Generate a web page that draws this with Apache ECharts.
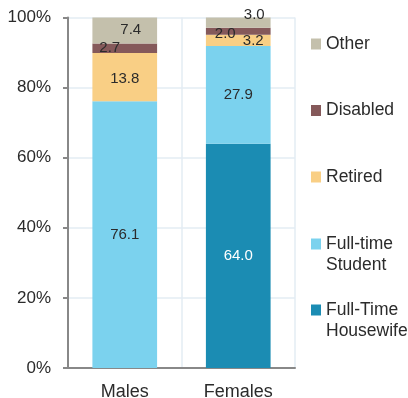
<!DOCTYPE html>
<html>
<head>
<meta charset="utf-8">
<script src="https://cdn.jsdelivr.net/npm/echarts@6/dist/echarts.min.js"></script>
<style>
  html, body { margin: 0; padding: 0; background: #fff; }
  #chart { width: 408px; height: 398px; }
</style>
</head>
<body>
<div id="chart"></div>
<script>
// Status breakdown (percent) by sex
var categories = ['Males', 'Females'];
var seriesNames = ['Full-Time\nHousewife', 'Full-time\nStudent', 'Retired', 'Disabled', 'Other'];
var housewife = [0, 64.0];
var student = [76.1, 27.9];
var retired = [13.8, 3.2];
var disabled = [2.7, 2.0];
var other = [7.4, 3.0];
var yTicks = [0, 20, 40, 60, 80, 100];

var colors = ['#1b8cb3', '#7bd2ee', '#f9cf85', '#85595a', '#c4c0ac'];
var values = [housewife, student, retired, disabled, other];
var textColor = '#2b2b2b';
var font = 'Liberation Sans, Arial, sans-serif';

// per-label nudges for thin segments
var labelOffsets = {
  'Disabled': [[-15, 0], [-13, 3]],
  'Other': [[6, -1], [16, -8]],
  'Retired': [[0, 2], [15, 1]]
};

var series = seriesNames.map(function (name, i) {
  return {
    name: name,
    type: 'bar',
    stack: 'total',
    barWidth: '57%',
    itemStyle: { color: colors[i] },
    data: values[i].map(function (v, j) {
      var d = { value: v };
      var off = labelOffsets[name] ? labelOffsets[name][j] : [0, 0];
      d.label = {
        show: v > 0,
        position: 'inside',
        offset: off,
        formatter: function (p) { return p.value.toFixed(1); },
        color: (i === 0) ? '#ffffff' : textColor,
        fontSize: 15,
        fontFamily: font
      };
      return d;
    })
  };
});

// one legend block per entry, stacked down the right side;
// icon centre heights, two-line names get a blank lead line so the icon sits on the first line
var legendCentres = [310, 244, 177, 110.5, 44];
var legendLine = 21;
var legends = seriesNames.map(function (name, i) {
  var twoLine = name.indexOf('\n') >= 0;
  var half = twoLine ? legendLine * 1.5 : legendLine / 2;
  return {
    data: [name],
    left: 311,
    top: legendCentres[i] - half,
    padding: 0,
    orient: 'vertical',
    icon: 'rect',
    itemWidth: 10,
    itemHeight: 11,
    itemGap: 0,
    selectedMode: false,
    formatter: function (n) { return twoLine ? '\n' + n : n; },
    textStyle: {
      color: textColor,
      fontSize: 17.5,
      fontFamily: font,
      lineHeight: legendLine
    }
  };
});

var chart = echarts.init(document.getElementById('chart'), null, { renderer: 'canvas' });
chart.setOption({
  animation: false,
  legend: legends,
  grid: { left: 68, right: 113, top: 17.5, bottom: 30, containLabel: false, outerBoundsMode: 'none' },
  xAxis: {
    type: 'category',
    data: categories,
    axisLine: { lineStyle: { color: '#888888', width: 2 } },
    axisTick: { show: false },
    axisLabel: { color: textColor, fontSize: 18, fontFamily: font, margin: 15 },
    splitLine: { show: true, lineStyle: { color: '#e3ecf3', width: 1.5 } }
  },
  yAxis: {
    type: 'value',
    min: yTicks[0],
    max: yTicks[yTicks.length - 1],
    interval: 20,
    axisLine: { show: true, lineStyle: { color: '#888888', width: 2 } },
    axisTick: { show: true, length: 5, lineStyle: { color: '#888888', width: 2 } },
    axisLabel: {
      color: textColor, fontSize: 17, fontFamily: font, margin: 17,
      formatter: function (v) { return v + '%'; }
    },
    splitLine: { show: true, lineStyle: { color: '#e3ecf3', width: 1.5 } }
  },
  series: series
});
</script>
</body>
</html>
